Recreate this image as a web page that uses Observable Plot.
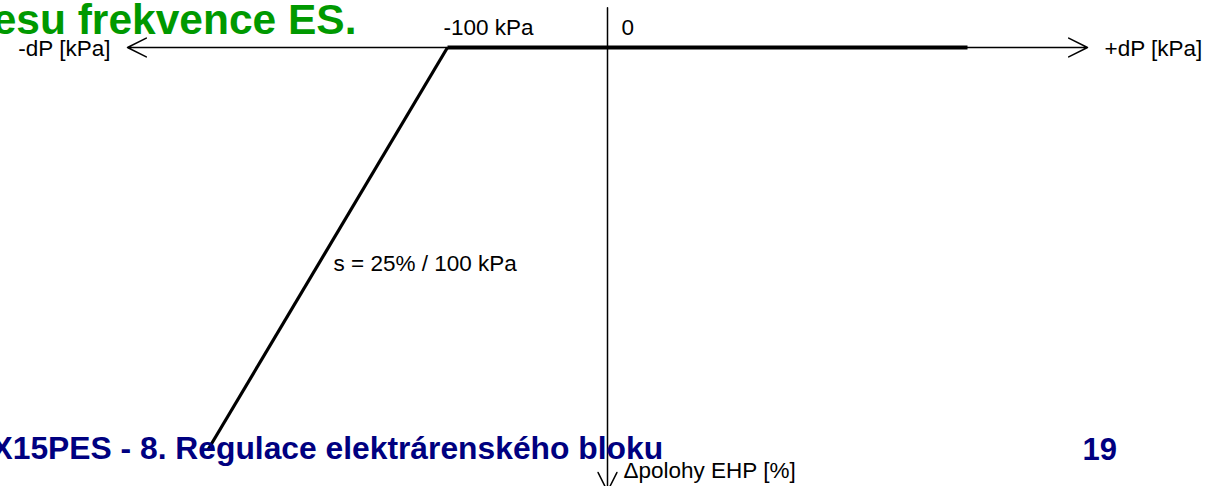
<!DOCTYPE html>
<html>
<head>
<meta charset="utf-8">
<script src="https://cdn.jsdelivr.net/npm/d3@7"></script>
<script src="https://cdn.jsdelivr.net/npm/@observablehq/plot@0.6"></script>
<style>
  html, body { margin: 0; padding: 0; background: #fff; }
  #chart svg { display: block; }
</style>
</head>
<body>
<div id="chart"></div>
<script>
// ---- data (kPa on x, % of EHP position on y) ----
const droopDP  = [-100, -250];   // sloped droop line
const droopEHP = [0, 37.5];
const flatDP   = [-100, 225];    // thick flat segment
const flatEHP  = [0, 0];
const hAxisEnds = [-300, 300];   // horizontal axis arrow tips (kPa)
const vAxisTop = -3.7, vAxisBottom = 41.3; // vertical axis extent (%)
const tickDP = [-100, 0];
const tickLabels = ["-100 kPa", "0"];
const axisLabelLeft = "-dP [kPa]";
const axisLabelRight = "+dP [kPa]";
const axisLabelDown = "\u0394polohy EHP [%]";
const slopeLabel = "s = 25% / 100 kPa";
const titleText = "esu frekvence ES.";
const footerText = "X15PES - 8. Regulace elektrárenského bloku";
const pageNumber = "19";

const font = "'Liberation Sans', Arial, Helvetica, sans-serif";

const droop = droopDP.map((d, i) => ({dP: d, ehp: droopEHP[i]}));
const flat = flatDP.map((d, i) => ({dP: d, ehp: flatEHP[i]}));
const hArrows = hAxisEnds.map(e => ({x1: 0, y1: 0, x2: e, y2: 0}));
const vArrow = [{x1: 0, y1: vAxisTop, x2: 0, y2: vAxisBottom}];
const ticks = tickDP.map((d, i) => ({dP: d, label: tickLabels[i]}));
const mid = {dP: (droopDP[0] + droopDP[1]) / 2, ehp: (droopEHP[0] + droopEHP[1]) / 2, label: slopeLabel};

const labelStyle = {textAnchor: "start", lineAnchor: "bottom", fontSize: 22.5, fill: "#000"};

const chart = Plot.plot({
  width: 1221,
  height: 486,
  margin: 0,
  style: {fontFamily: font, background: "#fff"},
  x: {domain: [-379.375, 383.75], axis: null},
  y: {domain: [-4.373, 40.85], reverse: true, axis: null},
  marks: [
    Plot.arrow(hArrows, {x1: "x1", y1: "y1", x2: "x2", y2: "y2", stroke: "#000", strokeWidth: 1.5, headAngle: 53, headLength: 21}),
    Plot.arrow(vArrow, {x1: "x1", y1: "y1", x2: "x2", y2: "y2", stroke: "#000", strokeWidth: 1.5, headAngle: 53, headLength: 21}),
    Plot.line(flat, {x: "dP", y: "ehp", stroke: "#000", strokeWidth: 4, strokeLinecap: "butt"}),
    Plot.line(droop, {x: "dP", y: "ehp", stroke: "#000", strokeWidth: 3.2, strokeLinecap: "butt"}),
    Plot.text(ticks.filter(t => t.dP !== 0), {x: "dP", y: () => 0, text: "label", ...labelStyle, dx: -4, dy: -12}),
    Plot.text(ticks.filter(t => t.dP === 0), {x: "dP", y: () => 0, text: "label", ...labelStyle, dx: 14, dy: -12}),
    Plot.text([axisLabelLeft], {x: () => hAxisEnds[0], y: () => 0, text: d => d, ...labelStyle, textAnchor: "end", dx: -17, dy: 9}),
    Plot.text([axisLabelRight], {x: () => hAxisEnds[1], y: () => 0, text: d => d, ...labelStyle, dx: 17, dy: 9}),
    Plot.text([axisLabelDown], {x: () => 0, y: () => vAxisBottom, text: d => d, ...labelStyle, dx: 16, dy: -13}),
    Plot.text([mid], {x: "dP", y: "ehp", text: "label", ...labelStyle, dx: 6, dy: 22}),
    Plot.text([titleText], {frameAnchor: "top-left", text: d => d, textAnchor: "end", lineAnchor: "bottom", dx: 356, dy: 33, fontSize: 42.5, fontWeight: "bold", fill: "#009900"}),
    Plot.text([footerText], {frameAnchor: "top-left", text: d => d, textAnchor: "start", lineAnchor: "bottom", dx: -9, dy: 458, fontSize: 31.8, fontWeight: "bold", fill: "#000080"}),
    Plot.text([pageNumber], {frameAnchor: "top-left", text: d => d, textAnchor: "start", lineAnchor: "bottom", dx: 1082, dy: 459, fontSize: 31, fontWeight: "bold", fill: "#000080"})
  ]
});
document.getElementById("chart").appendChild(chart);
</script>
</body>
</html>
